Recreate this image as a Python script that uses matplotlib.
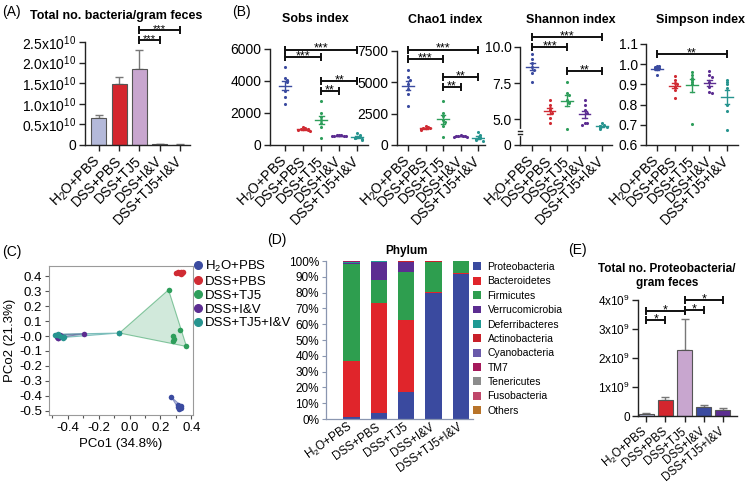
import numpy as np
import matplotlib
matplotlib.use('Agg')
import matplotlib.pyplot as plt
from matplotlib.patches import Polygon
from matplotlib.lines import Line2D
from matplotlib.colors import to_rgba

plt.rcParams['font.family'] = ['Liberation Sans', 'DejaVu Sans']
plt.rcParams['mathtext.fontset'] = 'custom'
plt.rcParams['mathtext.rm'] = 'Liberation Sans'
plt.rcParams['mathtext.it'] = 'Liberation Sans:italic'
plt.rcParams['mathtext.bf'] = 'Liberation Sans:bold'
plt.rcParams['axes.unicode_minus'] = False

# groups shared by all panels
groups = ['H$_2$O+PBS', 'DSS+PBS', 'DSS+TJ5', 'DSS+I&V', 'DSS+TJ5+I&V']
group_colors = ['#3b4ba0', '#d02b33', '#2e9e5b', '#5c2d91', '#27948f']

# (A) total bacteria per gram feces
total_bact = [0.66e10, 1.47e10, 1.84e10, 0.02e10, 0.01e10]
total_bact_err = [0.08e10, 0.17e10, 0.46e10, 0.01e10, 0.005e10]
bar_colors = ['#b4b9da', '#d4262e', '#c8a6cf', '#3b4ba0', '#5c2d91']

# (B) alpha diversity, one list per group
sobs = [[4900, 4200, 4050, 3950, 3350, 3000, 2550],
        [1150, 1050, 1000, 980, 950, 920, 900],
        [2750, 2000, 1750, 1550, 1350, 1150, 420],
        [650, 620, 600, 580, 560, 550, 540],
        [750, 600, 500, 450, 420, 380, 320]]
chao1 = [[5950, 5400, 5200, 4900, 4500, 4100, 3100],
         [1500, 1420, 1380, 1350, 1300, 1250, 1200],
         [3500, 2550, 2300, 2000, 1800, 1500, 620],
         [760, 730, 700, 690, 680, 660, 650],
         [1000, 800, 620, 530, 450, 400, 340]]
shannon = [[9.5, 9.2, 8.9, 8.6, 8.4, 8.2, 7.6],
           [6.3, 6.0, 5.8, 5.6, 5.4, 5.1, 4.7],
           [7.6, 6.8, 6.7, 6.3, 6.2, 6.1, 4.3],
           [6.3, 6.0, 5.6, 5.4, 4.7, 4.7, 4.6],
           [4.7, 4.6, 4.55, 4.5, 4.45, 4.35, 4.3]]
simpson = [[0.99, 0.99, 0.985, 0.98, 0.98, 0.975, 0.945],
           [0.94, 0.92, 0.905, 0.9, 0.885, 0.87, 0.835],
           [0.96, 0.945, 0.93, 0.92, 0.91, 0.9, 0.705],
           [0.965, 0.945, 0.935, 0.91, 0.885, 0.86, 0.855],
           [0.92, 0.91, 0.9, 0.88, 0.8, 0.77, 0.675]]

# (C) PCoA coordinates
pco1 = [[0.27, 0.31, 0.32, 0.33, 0.32, 0.335, 0.31],
        [0.30, 0.31, 0.32, 0.33, 0.34, 0.345, 0.335],
        [-0.065, 0.252, 0.326, 0.284, 0.284, 0.368, 0.29],
        [-0.295, -0.47, -0.46, -0.45, -0.47, -0.44, -0.465],
        [-0.48, -0.47, -0.45, -0.43, -0.42, -0.46, -0.07]]
pco2 = [[-0.41, -0.46, -0.47, -0.48, -0.49, -0.47, -0.475],
        [0.42, 0.43, 0.42, 0.43, 0.42, 0.43, 0.415],
        [0.02, 0.31, 0.04, -0.003, -0.036, -0.07, -0.02],
        [0.015, 0.005, -0.01, 0.01, -0.005, 0.0, -0.012],
        [0.005, 0.01, 0.0, -0.01, -0.005, 0.012, 0.02]]

# (D) phylum composition (%)
phyla = ['Proteobacteria', 'Bacteroidetes', 'Firmicutes', 'Verrucomicrobia',
         'Deferribacteres', 'Actinobacteria', 'Cyanobacteria', 'TM7',
         'Tenericutes', 'Fusobacteria', 'Others']
phylum_colors = ['#3a4a9f', '#e0252b', '#2e9e4f', '#5c2d91', '#1f9a94',
                 '#c8202a', '#6a5aaa', '#a5195b', '#8c8c8c', '#c0476a', '#b8742a']
comp_h2o_pbs = [1.5, 35.5, 61.0, 0.6, 0.5, 0.4, 0.1, 0.1, 0.1, 0.1, 0.1]
comp_dss_pbs = [3.8, 69.4, 14.8, 11.5, 0.2, 0.1, 0.05, 0.05, 0.05, 0.0, 0.05]
comp_dss_tj5 = [17.1, 45.5, 30.2, 6.5, 0.2, 0.3, 0.1, 0.05, 0.0, 0.0, 0.05]
comp_dss_iv = [79.5, 0.6, 19.3, 0.1, 0.1, 0.1, 0.05, 0.0, 0.0, 0.05, 0.2]
comp_dss_tj5_iv = [92.0, 0.5, 7.2, 0.05, 0.05, 0.05, 0.05, 0.0, 0.0, 0.0, 0.1]

# (E) Proteobacteria per gram feces
proteo = [0.07e9, 0.55e9, 2.28e9, 0.30e9, 0.20e9]
proteo_err = [0.02e9, 0.10e9, 1.07e9, 0.08e9, 0.07e9]

W, H = 746, 486
fig = plt.figure(figsize=(W / 100, H / 100), dpi=100)


def add_ax(l, t, r, b):
    return fig.add_axes([l / W, 1 - b / H, (r - l) / W, (b - t) / H])


def style(ax, fs=10):
    for s in ['top', 'right']:
        ax.spines[s].set_visible(False)
    for s in ['left', 'bottom']:
        ax.spines[s].set_linewidth(1.0)
        ax.spines[s].set_color('#222222')
    ax.tick_params(direction='out', length=4, width=1, color='#222222',
                   labelsize=fs, pad=2)


def cat_labels(ax, rot=45, fs=10):
    ax.set_xticks(range(5))
    ax.set_xticklabels(groups, rotation=rot, ha='right', va='center',
                       rotation_mode='anchor', fontsize=fs)
    ax.tick_params(axis='x', pad=6)


def bracket(ax, x1, x2, y, txt, fs=9):
    ax.plot([x1, x2], [y, y], color='#111111', lw=1.4, marker='|', ms=6,
            mew=1.4, clip_on=False, zorder=4)
    ax.annotate(txt, xy=((x1 + x2) / 2, y), xytext=(0, -1.5),
                textcoords='offset points', ha='center', va='baseline',
                fontsize=fs, annotation_clip=False)


def swarm(vals, tol, step=0.13):
    offs = np.zeros(len(vals))
    placed = []
    for k, v in enumerate(vals):
        n = sum(abs(v - p) < tol for p in placed)
        offs[k] = ((n + 1) // 2) * step * (1 if n % 2 else -1)
        placed.append(v)
    return offs


def dot_panel(ax, data, tol):
    for i, vals in enumerate(data):
        vals = np.array(vals, dtype=float)
        ax.scatter(i + swarm(vals, tol), vals, s=5, color=group_colors[i],
                   linewidths=0, zorder=3)
        m = vals.mean()
        se = vals.std(ddof=1) / np.sqrt(len(vals))
        c = group_colors[i]
        ax.plot([i - 0.33, i + 0.33], [m, m], color=c, lw=1, zorder=2)
        ax.plot([i, i], [m - se, m + se], color=c, lw=1, zorder=2)
        ax.plot([i - 0.14, i + 0.14], [m + se, m + se], color=c, lw=1, zorder=2)
        ax.plot([i - 0.14, i + 0.14], [m - se, m - se], color=c, lw=1, zorder=2)


def hull(points):
    pts = sorted(set(points))

    def cross(o, a, b):
        return (a[0] - o[0]) * (b[1] - o[1]) - (a[1] - o[1]) * (b[0] - o[0])
    lower, upper = [], []
    for p in pts:
        while len(lower) >= 2 and cross(lower[-2], lower[-1], p) <= 0:
            lower.pop()
        lower.append(p)
    for p in reversed(pts):
        while len(upper) >= 2 and cross(upper[-2], upper[-1], p) <= 0:
            upper.pop()
        upper.append(p)
    return lower[:-1] + upper[:-1]


x = np.arange(5)

# ---------------- (A)
ax = add_ax(85, 42, 190, 145)
style(ax)
ax.errorbar(x, total_bact, yerr=[np.zeros(5), total_bact_err], fmt='none',
            ecolor='#777777', elinewidth=1, capsize=3, capthick=1, zorder=1)
ax.bar(x, total_bact, width=0.74, color=bar_colors, edgecolor='#555555',
       linewidth=0.8, zorder=2)
ax.set_xlim(-0.69, 4.5)
ax.set_ylim(0, 2.5e10)
ax.set_yticks([0, 0.5e10, 1e10, 1.5e10, 2e10, 2.5e10])
ax.set_yticklabels(['0', '0.5x10$^{10}$', '1.0x10$^{10}$', '1.5x10$^{10}$',
                    '2.0x10$^{10}$', '2.5x10$^{10}$'])
cat_labels(ax)
bracket(ax, 2, 3, 2.55e10, '***', fs=8)
bracket(ax, 2, 4, 2.78e10, '***', fs=8)
fig.text(2 / W, 1 - 12 / H, '(A)', fontsize=10, va='center')
fig.text(116 / W, 1 - 16 / H, 'Total no. bacteria/gram feces', fontsize=9,
         fontweight='bold', ha='center', va='center')

# ---------------- (B)
fig.text(232 / W, 1 - 12 / H, '(B)', fontsize=10, va='center')

ax = add_ax(270, 49, 368, 145)
style(ax)
dot_panel(ax, sobs, 180)
ax.set_xlim(-0.83, 4.6)
ax.set_ylim(0, 6000)
ax.set_yticks([0, 2000, 4000, 6000])
cat_labels(ax)
bracket(ax, 0, 4, 5950, '***')
bracket(ax, 0, 2, 5500, '***')
bracket(ax, 2, 4, 3980, '**')
bracket(ax, 2, 3, 3380, '**')
fig.text(315 / W, 1 - 19 / H, 'Sobs index', fontsize=9, fontweight='bold',
         ha='center', va='center')

ax = add_ax(397, 51, 485, 145)
style(ax)
dot_panel(ax, chao1, 220)
ax.set_xlim(-0.63, 4.4)
ax.set_ylim(0, 7500)
ax.set_yticks([0, 2500, 5000, 7500])
cat_labels(ax)
bracket(ax, 0, 4, 7600, '***')
bracket(ax, 0, 2, 6840, '***')
bracket(ax, 2, 4, 5400, '**')
bracket(ax, 2, 3, 4600, '**')
fig.text(445 / W, 1 - 20 / H, 'Chao1 index', fontsize=9, fontweight='bold',
         ha='center', va='center')


def brk_fwd(v):
    v = np.asarray(v, dtype=float)
    return np.where(v >= 4.0, v, 4.0 - (4.0 - v) * 0.2)


def brk_inv(t):
    t = np.asarray(t, dtype=float)
    return np.where(t >= 4.0, t, 4.0 - (4.0 - t) / 0.2)


ax = add_ax(520, 47, 612, 145)
style(ax)
ax.set_yscale('function', functions=(brk_fwd, brk_inv))
dot_panel(ax, shannon, 0.2)
ax.set_xlim(-0.69, 4.57)
ax.set_ylim(0, 10)
ax.set_yticks([0, 5, 7.5, 10])
ax.set_yticklabels(['0', '5.0', '7.5', '10.0'])
ax.yaxis.set_minor_locator(matplotlib.ticker.NullLocator())
cat_labels(ax)
# axis break mark
ax.plot([-0.69, -0.69], [3.9, 4.15], color='white', lw=3, clip_on=False, zorder=5)
for yb in [3.9, 4.15]:
    ax.plot([-0.83, -0.55], [yb, yb], color='#222222', lw=1, clip_on=False,
            zorder=6)
bracket(ax, 0, 4, 10.7, '***')
bracket(ax, 0, 2, 10.0, '***')
bracket(ax, 2, 4, 8.3, '**')
fig.text(571 / W, 1 - 20 / H, 'Shannon index', fontsize=9, fontweight='bold',
         ha='center', va='center')

ax = add_ax(646, 44, 738, 145)
style(ax)
dot_panel(ax, simpson, 0.01)
ax.set_xlim(-0.63, 4.63)
ax.set_ylim(0.6, 1.1)
ax.set_yticks([0.6, 0.7, 0.8, 0.9, 1.0, 1.1])
ax.set_yticklabels(['0.6', '0.7', '0.8', '0.9', '1.0', '1.1'])
cat_labels(ax)
bracket(ax, 0, 4, 1.05, '**')
fig.text(701 / W, 1 - 20 / H, 'Simpson index', fontsize=9, fontweight='bold',
         ha='center', va='center')

# ---------------- (C)
ax = add_ax(49, 266, 193, 415)
for s in ax.spines.values():
    s.set_color('#9a9a9a')
    s.set_linewidth(0.8)
ax.tick_params(direction='out', length=3, width=0.8, color='#555555',
               labelsize=9.5, pad=2)
ax.tick_params(which='minor', direction='out', length=2, width=0.8,
               color='#555555')
for i in range(5):
    hp = hull(list(zip(pco1[i], pco2[i])))
    ax.add_patch(Polygon(hp, closed=True, facecolor=to_rgba(group_colors[i], 0.22),
                         edgecolor=to_rgba(group_colors[i], 0.55), lw=0.8,
                         zorder=1))
    ax.scatter(pco1[i], pco2[i], s=16, color=group_colors[i], linewidths=0,
               zorder=3)
ax.set_xlim(-0.52, 0.41)
ax.set_ylim(-0.53, 0.47)
ax.set_xticks([-0.4, -0.2, 0.0, 0.2, 0.4])
ax.set_xticks(np.arange(-0.5, 0.45, 0.1), minor=True)
ax.set_yticks(np.round(np.arange(-0.5, 0.45, 0.1), 1))
ax.xaxis.set_major_formatter(matplotlib.ticker.FormatStrFormatter('%.1f'))
ax.yaxis.set_major_formatter(matplotlib.ticker.FormatStrFormatter('%.1f'))
ax.set_xlabel('PCo1 (34.8%)', fontsize=9.5, labelpad=3)
ax.set_ylabel('PCo2 (21.3%)', fontsize=9.5, labelpad=2)
handles = [Line2D([], [], marker='o', ls='', color=c, ms=5.5) for c in group_colors]
fig.legend(handles, groups, loc='upper left', bbox_to_anchor=(191 / W, 1 - 259 / H),
           frameon=False, fontsize=9.5, handletextpad=0.05, labelspacing=0.12,
           handlelength=1.0, borderaxespad=0, borderpad=0)
fig.text(2 / W, 1 - 252 / H, '(C)', fontsize=10, va='center')

# ---------------- (D)
ax = add_ax(326, 261, 473, 419)
for s in ['top', 'right']:
    ax.spines[s].set_visible(False)
for s in ['left', 'bottom']:
    ax.spines[s].set_color('#8a96b0')
    ax.spines[s].set_linewidth(0.9)
ax.tick_params(direction='out', length=3, width=0.8, color='#8a96b0',
               labelsize=8.5, pad=2)
comps = np.array([comp_h2o_pbs, comp_dss_pbs, comp_dss_tj5, comp_dss_iv,
                  comp_dss_tj5_iv])
bottom = np.zeros(5)
for j, name in enumerate(phyla):
    ax.bar(x, comps[:, j], bottom=bottom, width=0.6, color=phylum_colors[j],
           label=name, linewidth=0)
    bottom += comps[:, j]
ax.set_xlim(-0.93, 4.44)
ax.set_ylim(0, 100)
ax.set_yticks(range(0, 101, 10))
ax.set_yticklabels(['%d%%' % v for v in range(0, 101, 10)])
cat_labels(ax, rot=35, fs=8.5)
ax.tick_params(axis='x', length=0, pad=5)
ax.legend(loc='upper left', bbox_to_anchor=(473 / W, 1 - 262 / H),
          bbox_transform=fig.transFigure, frameon=False, fontsize=7.5,
          handlelength=0.8, handleheight=0.8, handletextpad=0.6,
          labelspacing=0.42, borderaxespad=0, borderpad=0)
fig.text(267 / W, 1 - 240 / H, '(D)', fontsize=10, va='center')
fig.text(406 / W, 1 - 251 / H, 'Phylum', fontsize=8.5, fontweight='bold',
         ha='center', va='center')

# ---------------- (E)
ax = add_ax(638, 300, 737, 416)
style(ax, fs=8.5)
ax.errorbar(x, proteo, yerr=[np.zeros(5), proteo_err], fmt='none',
            ecolor='#777777', elinewidth=1, capsize=3, capthick=1, zorder=1)
ax.bar(x, proteo, width=0.78, color=bar_colors, edgecolor='#555555',
       linewidth=0.8, zorder=2)
ax.set_xlim(-0.42, 4.73)
ax.set_ylim(0, 4e9)
ax.set_yticks([0, 1e9, 2e9, 3e9, 4e9])
ax.set_yticklabels(['0', '1x10$^9$', '2x10$^9$', '3x10$^9$', '4x10$^9$'])
cat_labels(ax, rot=40, fs=8.5)
bracket(ax, 2, 4, 4.0e9, '*')
bracket(ax, 2, 3, 3.65e9, '*')
bracket(ax, 0, 2, 3.62e9, '*')
bracket(ax, 0, 1, 3.3e9, '*')
fig.text(568 / W, 1 - 250 / H, '(E)', fontsize=10, va='center')
fig.text(667 / W, 1 - 276 / H, 'Total no. Proteobacteria/\ngram feces',
         fontsize=8.5, fontweight='bold', ha='center', va='center',
         linespacing=1.25)

fig.savefig('out.png', dpi=100)
